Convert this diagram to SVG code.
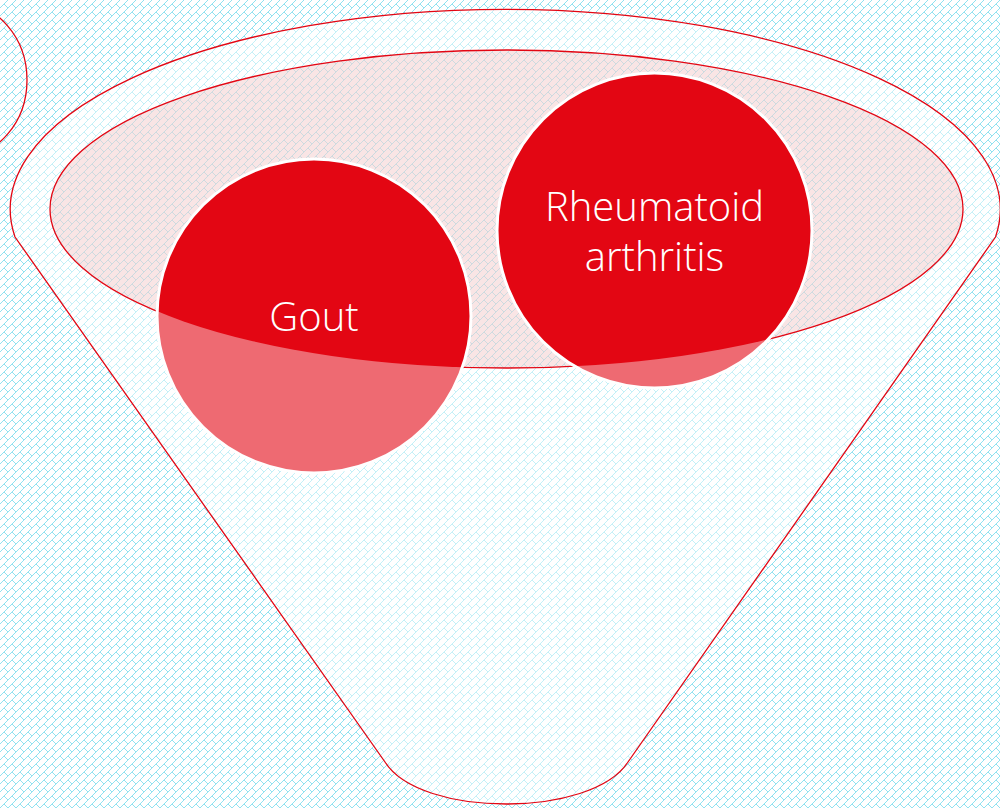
<svg xmlns="http://www.w3.org/2000/svg" width="1000" height="808" viewBox="0 0 1000 808">
  <defs>
    <pattern id="brick" x="0" y="0" width="8" height="8" patternUnits="userSpaceOnUse">
      <path d="M7,0h1v1h-1z M6,1h1v1h-1z M5,2h1v1h-1z M4,3h1v1h-1z M3,4h2v1h-2z M2,5h1v1h-1z M5,5h1v1h-1z M1,6h1v1h-1z M6,6h1v1h-1z M0,7h1v1h-1z M7,7h1v1h-1z" fill="#90E2F0" shape-rendering="crispEdges"/>
    </pattern>
    <clipPath id="ellClip">
      <ellipse cx="506.5" cy="209" rx="456.5" ry="159"/>
    </clipPath>
    <style>
      .red { stroke: #E30613; stroke-width: 1.3; }
      .circ-light { fill: #EE6A72; }
      .circ-dark { fill: #E30613; }
      .circ-stroke { fill: none; stroke: #FFFFFF; stroke-width: 3; }
      .lbl { font-family: "Open Sans", "Liberation Sans", sans-serif; font-weight: 300; font-size: 40px; fill: #FFFFFF; text-anchor: middle; }
    </style>
  </defs>
  <rect width="1000" height="808" fill="#FFFFFF"/>
  <rect width="1000" height="808" fill="url(#brick)"/>

  <g id="side-shape">
    <ellipse cx="-40" cy="80" rx="67" ry="77" fill="none" class="red"/>
  </g>

  <g id="funnel">
    <path d="M15,237 A495,200 0 1 1 995.5,237 L628,762 C592,818 420,818 385,762 Z" fill="#FFFFFF" fill-opacity="0.47" class="red"/>
  </g>

  <g id="funnel-mouth">
    <ellipse cx="506.5" cy="209" rx="456.5" ry="159" fill="rgb(230,150,150)" fill-opacity="0.25" class="red"/>
  </g>

  <g id="gout">
    <circle cx="314" cy="316" r="157" class="circ-light"/>
    <circle cx="314" cy="316" r="157" class="circ-dark" clip-path="url(#ellClip)"/>
    <circle cx="314" cy="316" r="157" class="circ-stroke"/>
    <text x="314" y="331" class="lbl">Gout</text>
  </g>

  <g id="rheumatoid-arthritis">
    <circle cx="654.5" cy="230.5" r="157.5" class="circ-light"/>
    <circle cx="654.5" cy="230.5" r="157.5" class="circ-dark" clip-path="url(#ellClip)"/>
    <circle cx="654.5" cy="230.5" r="157.5" class="circ-stroke"/>
    <text x="654.5" y="221" class="lbl">Rheumatoid</text>
    <text x="654.5" y="271" class="lbl">arthritis</text>
  </g>

  <g id="connectors"/>
</svg>
